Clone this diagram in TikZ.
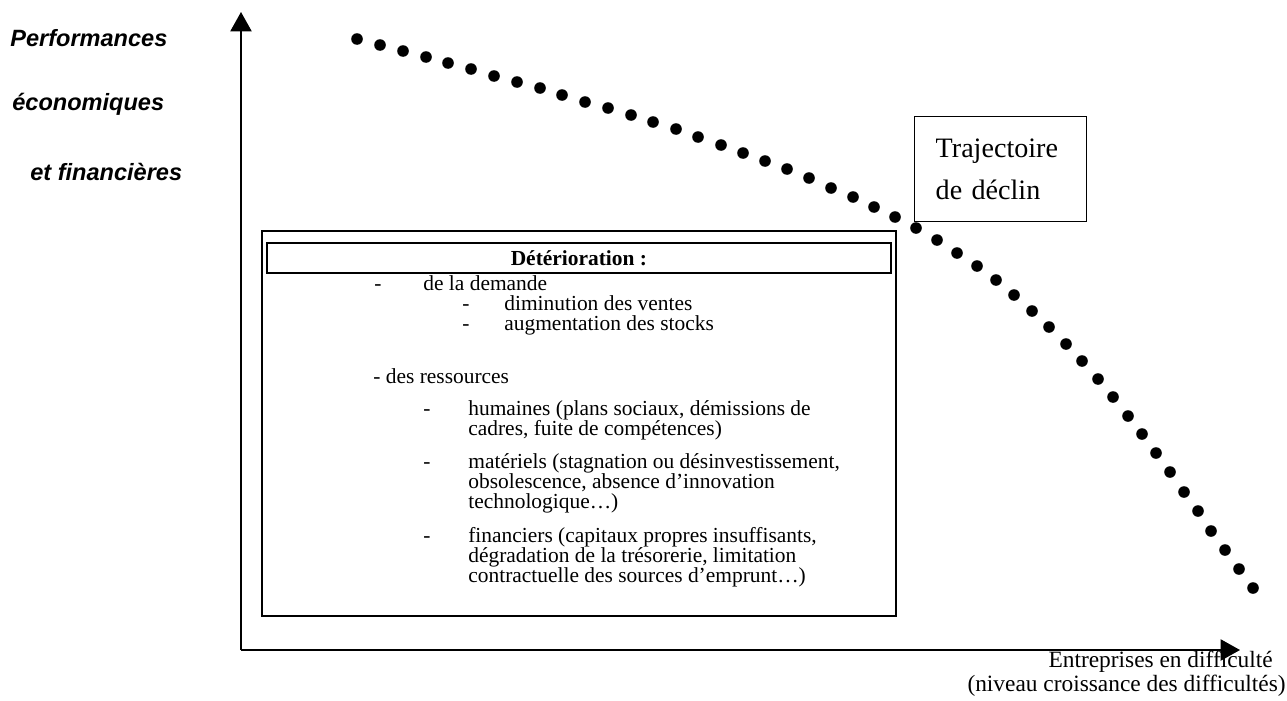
\documentclass[tikz,border=0pt]{standalone}
\usepackage{fontspec}
\setmainfont{Liberation Serif}
\setsansfont{Liberation Sans}
\usetikzlibrary{arrows.meta}

\begin{document}
\begin{tikzpicture}[x=0.02cm, y=-0.02cm,
  axis/.style={line width=1.1pt, -{Triangle[length=11pt,width=12pt]}},
  ylabel/.style={font=\sffamily\bfseries\itshape\fontsize{13.4}{16}\selectfont, anchor=west, inner sep=0},
  txt/.style={font=\fontsize{12.2}{14}\selectfont, anchor=base west, inner sep=0},
  tiret/.style={txt, anchor=base},
  dot/.style={fill=black}]
\useasboundingbox (0,0) rectangle (1287,700);

% Axis labels
\node[ylabel] (perf) at (10,38) {Performances};
\node[ylabel] (eco) at (12,104) {économiques};
\node[ylabel] (fin) at (30,172) {et financières};

\node[txt, anchor=base east, font=\fontsize{13.3}{15}\selectfont] (xlab1) at (1273,667) {Entreprises en difficulté};
\node[txt, anchor=base east, font=\fontsize{13.3}{15}\selectfont] (xlab2) at (1286,691) {(niveau croissance des difficultés)};

% Axes
\coordinate (origin) at (241,650);
\coordinate (ytop) at (241,12);
\coordinate (xend) at (1240,650);
\draw[axis] (origin) -- (ytop);
\draw[axis] (origin) -- (xend);

% Deterioration box
\node[draw, line width=1pt, inner sep=0, minimum width=12.68cm, minimum height=7.7cm, anchor=north west] (deter) at (261,230) {};
\node[draw, line width=1.1pt, inner sep=0, minimum width=12.48cm, minimum height=0.6cm, anchor=north west,
  font=\bfseries\fontsize{12.2}{14}\selectfont] (titre) at (266,242) {Détérioration :};

% Demand
\node[tiret] (d0) at (378,290) {-};
\node[txt] (dem) at (423,290) {de la demande};
\node[tiret] (d1) at (466,310) {-};
\node[txt] (dem_a) at (504,310) {diminution des ventes};
\node[tiret] (d2) at (466,330) {-};
\node[txt] (dem_b) at (504,330) {augmentation des stocks};

% Resources
\node[txt] (res) at (373,383) {- des ressources};
\node[tiret] (r1) at (427,415) {-};
\node[txt] (res_h1) at (468,415) {humaines (plans sociaux, démissions de};
\node[txt] (res_h2) at (468,435) {cadres, fuite de compétences)};
\node[tiret] (r2) at (427,468) {-};
\node[txt] (res_m1) at (468,468) {matériels (stagnation ou désinvestissement,};
\node[txt] (res_m2) at (468,488) {obsolescence, absence d’innovation};
\node[txt] (res_m3) at (468,508) {technologique…)};
\node[tiret] (r3) at (427,542) {-};
\node[txt] (res_f1) at (468,542) {financiers (capitaux propres insuffisants,};
\node[txt] (res_f2) at (468,562) {dégradation de la trésorerie, limitation};
\node[txt] (res_f3) at (468,582) {contractuelle des sources d’emprunt…)};

% Decline trajectory
\node[draw, line width=0.8pt, anchor=north west, minimum width=3.44cm, minimum height=2.1cm,
  inner xsep=0.42cm, text width=2.6cm, align=left,
  font=\fontsize{16}{24}\selectfont] (traj) at (914,116) {Trajectoire\\de déclin};

\foreach \px/\py in {357/39, 380/45, 403/51, 426/57, 448/63, 471/69, 494/76, 517/82,
  540/88, 562/95, 585/102, 608/108, 631/115, 653/122, 676/129, 698/137, 721/145,
  743/153, 765/161, 787/169, 809/178, 831/188, 853/197, 874/207, 895/217, 916/228,
  937/240, 957/253, 977/266, 996/280, 1014/295, 1032/311, 1049/327, 1066/344,
  1082/361, 1098/379, 1113/397, 1128/416, 1142/434, 1156/453, 1170/472, 1184/492,
  1198/511, 1211/531, 1225/550, 1239/569, 1253/588}
  \fill[dot] (\px,\py) circle[radius=3.3pt];
\end{tikzpicture}
\end{document}
